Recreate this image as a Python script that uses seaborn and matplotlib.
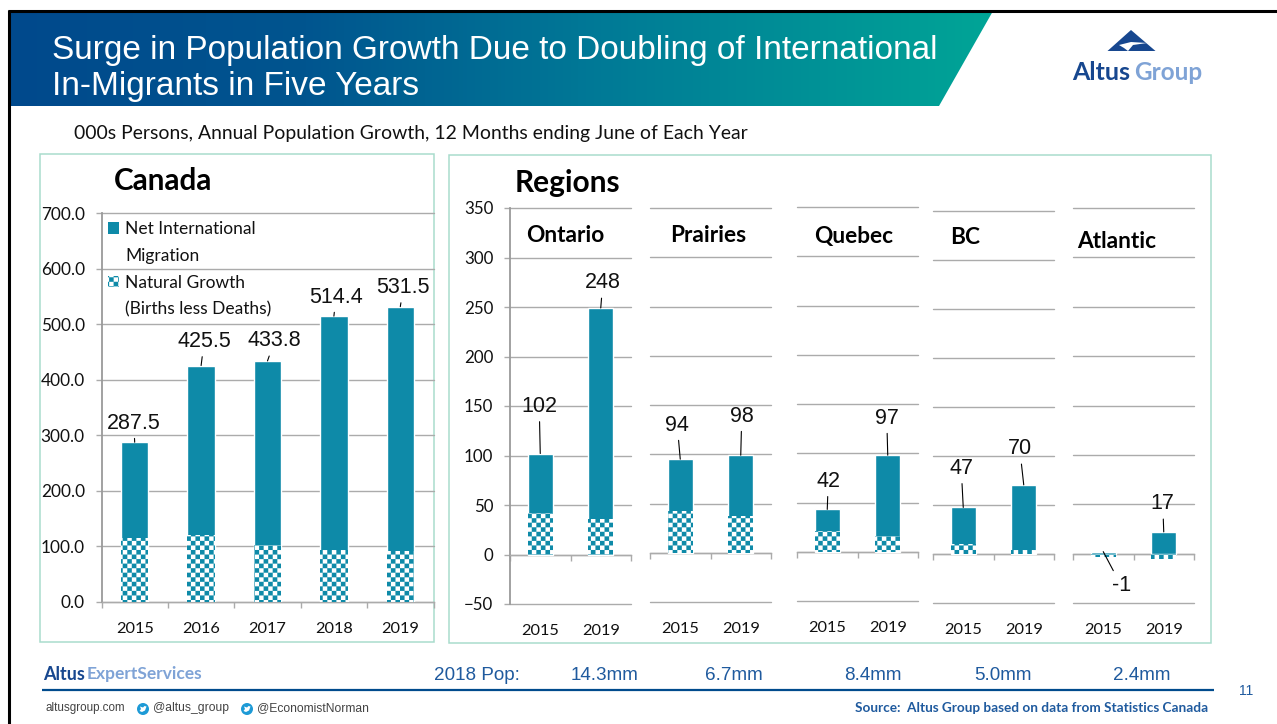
import numpy as np
import pandas as pd
import matplotlib
matplotlib.use("Agg")
import matplotlib.pyplot as plt
import matplotlib.hatch as mhatch
from matplotlib.colors import LinearSegmentedColormap
from matplotlib.patches import Polygon, Rectangle, Circle, Patch
from matplotlib.path import Path
import seaborn as sns

# data
canada_years = ["2015", "2016", "2017", "2018", "2019"]
canada_total = [287.5, 425.5, 433.8, 514.4, 531.5]
canada_natural = [115, 120, 103, 94, 92]
canada_labels = ["287.5", "425.5", "433.8", "514.4", "531.5"]
canada_yticks = [0, 100, 200, 300, 400, 500, 600, 700]

region_years = ["2015", "2019"]
region_names = ["Ontario", "Prairies", "Quebec", "BC", "Atlantic"]
region_net = [[60, 213], [53, 62], [22, 82], [37, 66.5], [2, 22]]
region_natural = [[42, 36], [42, 37], [21, 16], [10.5, 4], [-3, -5]]
region_labels = [["102", "248"], ["94", "98"], ["42", "97"], ["47", "70"], ["-1", "17"]]
region_pop = ["14.3mm", "6.7mm", "8.4mm", "5.0mm", "2.4mm"]
region_yticks = [-50, 0, 50, 100, 150, 200, 250, 300, 350]

# layout, in pixels of the 1277x724 slide
W, H = 1277, 724
canada_box = (101.5, 433.5, 213, 602)
region_boxes = [(510, 631, 208, 604), (650, 771, 208, 602), (797, 918, 207, 601),
                (933, 1054, 211, 603), (1073, 1194, 208, 603)]
canada_offsets = [(-1, 19), (3, 24), (7, 20), (2, 19), (3, 19)]
region_offsets = [[(-1, 47), (2, 25)], [(-3, 34), (1, 39)], [(1, 28), (-1, 37)],
                  [(-2, 39), (-4, 36)], [(18, -34), (-1, 28)]]
name_pos = [(526, 235), (670, 236), (814, 236), (950, 238), (1077, 242)]
pop_x = [605, 734, 873, 1003, 1142]

TEAL = "#0e8aa8"
GRID = "#ababab"
BLUE = "#004b8d"
MIDBLUE = "#1f5a9e"
LIGHT = "#7fa3d6"
BOXC = "#a9dccd"
CAL = ["Lato", "DejaVu Sans"]
ARIAL = ["Liberation Sans", "DejaVu Sans"]


# checkerboard fill for the natural growth bars
class CheckerHatch(mhatch.HatchPatternBase):
    def __init__(self, hatch, density):
        self.n = 22 if "c" in hatch else 0
        self.num_vertices = 5 * self.n * self.n // 2

    def set_vertices_and_codes(self, vertices, codes):
        if self.n == 0:
            return
        s = 1.0 / self.n
        k = 0
        for r in range(self.n):
            for c in range(self.n):
                if (r + c) % 2 == 0:
                    x, y = c * s, r * s
                    vertices[k:k + 5] = [(x, y), (x + s, y), (x + s, y + s), (x, y + s), (x, y)]
                    codes[k:k + 5] = [Path.MOVETO, Path.LINETO, Path.LINETO, Path.LINETO, Path.CLOSEPOLY]
                    k += 5


mhatch._hatch_types.append(CheckerHatch)

sns.set_theme(style="white")
plt.rcParams["font.family"] = CAL
plt.rcParams["hatch.linewidth"] = 0.05

fig = plt.figure(figsize=(W / 100, H / 100), dpi=100, facecolor="white")

# slide background drawn in pixel coordinates
bg = fig.add_axes([0, 0, 1, 1])
bg.set_xlim(0, W)
bg.set_ylim(H, 0)
bg.axis("off")

cmap = LinearSegmentedColormap.from_list(
    "banner", [(0, "#00498c"), (0.3, "#00558f"), (0.62, "#007c97"), (1, "#00a596")])
img = bg.imshow(np.linspace(0, 1, 256).reshape(1, -1), cmap=cmap, aspect="auto", extent=(10, 993, 106, 11))
banner = Polygon([(10, 11), (993, 11), (939, 106), (10, 106)], transform=bg.transData, fc="none", ec="none")
bg.add_patch(banner)
img.set_clip_path(banner)
bg.set_xlim(0, W)
bg.set_ylim(H, 0)
bg.plot([8, W], [11, 11], color="black", lw=2.2, solid_capstyle="butt")
bg.plot([9, 9], [10, H], color="black", lw=2.2, solid_capstyle="butt")

bg.text(52, 50, "Surge in Population Growth Due to Doubling of International", color="white",
        fontsize=24, family=ARIAL, va="center")
bg.text(52, 86, "In-Migrants in Five Years", color="white", fontsize=24, family=ARIAL, va="center")
bg.text(74, 134, "000s Persons, Annual Population Growth, 12 Months ending June of Each Year",
        color="#111111", fontsize=13.95, va="center")

# logo
bg.add_patch(Polygon([(1131, 30), (1155.5, 51), (1107.5, 51)], fc="#17478f", ec="none"))
bg.add_patch(Polygon([(1119, 45), (1131, 42), (1147, 43), (1133, 45), (1128, 51), (1124, 48)], fc="white", ec="none"))
bg.text(1072, 73, "Altus", color="#17478f", fontsize=18, weight="bold", va="center")
bg.text(1134, 73, "Group", color=LIGHT, fontsize=17.5, weight="bold", va="center")

bg.add_patch(Rectangle((40, 154), 393.5, 487.5, fc="none", ec=BOXC, lw=1.1))
bg.add_patch(Rectangle((448.5, 155), 762.5, 488, fc="none", ec=BOXC, lw=1.1))
bg.text(114, 181, "Canada", fontsize=21.3, weight="bold", color="black", va="center")
bg.text(515, 183, "Regions", fontsize=21.5, weight="bold", color="black", va="center")
for name, (nx, ny) in zip(region_names, name_pos):
    bg.text(nx, ny, name, fontsize=16.3, weight="bold", color="black", va="center")

# footer
bg.text(43, 674, "Altus", color="#17478f", fontsize=13, weight="bold", va="center")
bg.text(87, 674, "ExpertServices", color=LIGHT, fontsize=12.5, weight="bold", va="center")
bg.text(434, 676, "2018 Pop:", color=MIDBLUE, fontsize=13.6, family=ARIAL, va="center")
for px, pop in zip(pop_x, region_pop):
    bg.text(px, 676, pop, color=MIDBLUE, fontsize=13.6, family=ARIAL, va="center", ha="center")
bg.plot([42, 1214], [690, 690], color=BLUE, lw=1.6, solid_capstyle="butt")
bg.text(1246, 691, "11", color=MIDBLUE, fontsize=10, family=ARIAL, va="center", ha="center")
bg.text(45, 708, "altusgroup.com", color="#444444", fontsize=8.4, family=ARIAL, va="center")
for cx, handle in [(143, "@altus_group"), (247, "@EconomistNorman")]:
    bg.add_patch(Circle((cx, 709), 6, fc="#1d9ad6", ec="none"))
    bird = [(cx - 3.5, 711), (cx - 1, 712), (cx + 2, 710.5), (cx + 3.5, 706.5), (cx + 1.5, 706),
            (cx, 707.5), (cx - 3, 706.5), (cx - 2, 709)]
    bg.add_patch(Polygon(bird, fc="white", ec="none"))
    bg.text(cx + 10, 708, handle, color="#444444", fontsize=8.7, family=ARIAL, va="center")
bg.text(1208, 708, "Source:  Altus Group based on data from Statistics Canada", color=MIDBLUE,
        fontsize=9.8, weight="bold", va="center", ha="right")


def make_axes(box):
    x0, x1, y0, y1 = box
    ax = fig.add_axes([x0 / W, 1 - y1 / H, (x1 - x0) / W, (y1 - y0) / H])
    ax.patch.set_alpha(0)
    return ax


def draw_bars(ax, years, net, natural):
    df = pd.DataFrame({"year": years, "net": net, "natural": natural})
    df["top"] = df["net"] + df["natural"].clip(lower=0)
    sns.barplot(data=df, x="year", y="top", color=TEAL, saturation=1, width=0.41, ax=ax, zorder=3)
    sns.barplot(data=df, x="year", y="natural", color="white", saturation=1, width=0.41, ax=ax,
                hatch="c", edgecolor=TEAL, linewidth=0, zorder=4)
    ax.set_xlabel("")
    ax.set_ylabel("")
    return df["top"].tolist()


def style_axes(ax, yticks, ylim, label_pad, show_left, ysize):
    n = len(ax.get_xticks())
    ax.set_xlim(-0.5, n - 0.5)
    ax.set_ylim(*ylim)
    ax.set_yticks(yticks)
    ax.set_xticks(np.arange(n + 1) - 0.5, labels=[""] * (n + 1))
    ax.grid(axis="y", color=GRID, lw=1.0)
    ax.grid(axis="x", visible=False)
    for line in ax.get_ygridlines():
        line.set_clip_on(False)
    ax.set_axisbelow(True)
    for side in ["top", "right"]:
        ax.spines[side].set_visible(False)
    ax.spines["bottom"].set_color(GRID)
    ax.spines["bottom"].set_linewidth(1.0)
    ax.spines["bottom"].set_position(("data", 0))
    ax.spines["left"].set_color("#9a9a9a")
    ax.spines["left"].set_linewidth(1.3)
    ax.spines["left"].set_visible(show_left)
    ax.tick_params(axis="x", which="major", bottom=True, length=4, width=1, color=GRID)
    ax.tick_params(axis="x", which="minor", bottom=True, length=0, pad=label_pad, labelsize=11.8, labelcolor="#111111")
    ax.tick_params(axis="y", left=show_left, length=4, width=1, color=GRID, pad=8,
                   labelleft=show_left, labelsize=ysize, labelcolor="#111111")


def add_labels(ax, tops, labels, offsets):
    for i, (top, lab, off) in enumerate(zip(tops, labels, offsets)):
        ax.annotate(lab, xy=(i, top), xytext=off, textcoords="offset pixels", ha="center", va="center",
                    fontsize=15.5, family=ARIAL, color="#111111", zorder=6, annotation_clip=False,
                    arrowprops=dict(arrowstyle="-", color="black", lw=0.8, shrinkA=1, shrinkB=0))


# Canada panel
ax = make_axes(canada_box)
canada_net = [t - n for t, n in zip(canada_total, canada_natural)]
tops = draw_bars(ax, canada_years, canada_net, canada_natural)
style_axes(ax, canada_yticks, (0, 700), 14.3, True, 12.4)
ax.set_xticks(range(5), labels=canada_years, minor=True)
ax.set_yticklabels([f"{v:.1f}" for v in canada_yticks])
add_labels(ax, tops, canada_labels, canada_offsets)
blank = Patch(facecolor="none", edgecolor="none")
handles = [Patch(facecolor=TEAL, edgecolor="none"), blank,
           Patch(facecolor="white", edgecolor=TEAL, hatch="c", linewidth=0), blank]
ax.legend(handles, ["Net International", "Migration", "Natural Growth", "(Births less Deaths)"],
          loc="upper left", bbox_to_anchor=(0.0, 0.996), frameon=False, labelcolor="#111111",
          handlelength=0.65, handleheight=0.65, handletextpad=0.33, labelspacing=0.62,
          borderaxespad=0, borderpad=0.37, prop=dict(family=CAL, size=12.5))

# region panels
for i in range(5):
    ax = make_axes(region_boxes[i])
    tops = draw_bars(ax, region_years, region_net[i], region_natural[i])
    style_axes(ax, region_yticks, (-50, 350), 50, i == 0, 12.2)
    ax.set_xticks([0, 1], labels=region_years, minor=True)
    add_labels(ax, tops, region_labels[i], region_offsets[i])

fig.savefig("out.png", dpi=100)
